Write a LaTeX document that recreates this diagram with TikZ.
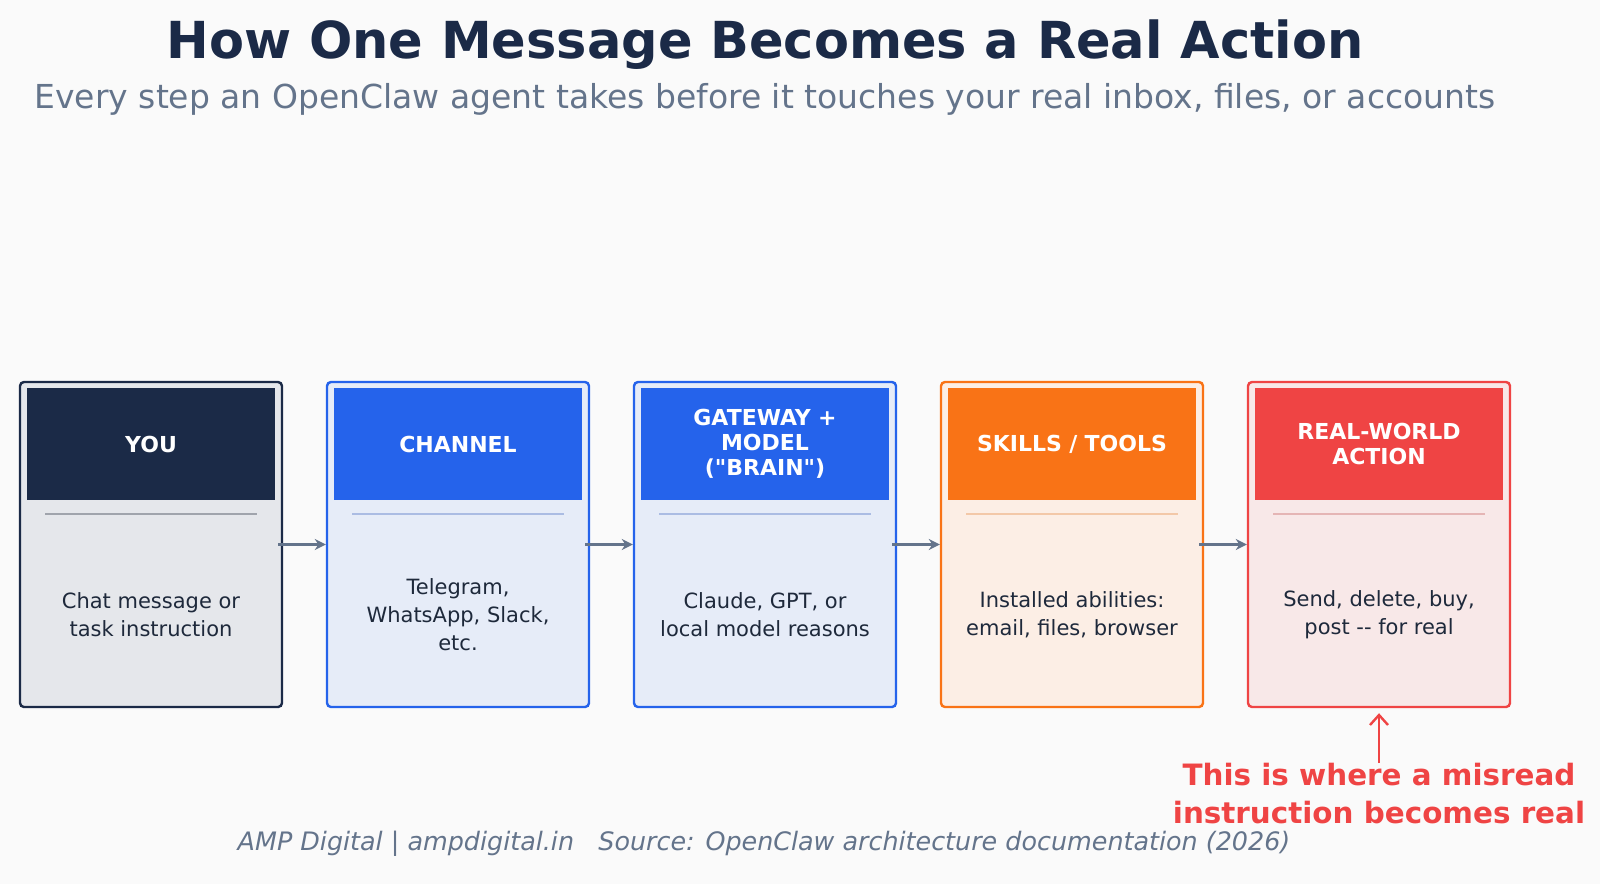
\documentclass[tikz,border=0pt]{standalone}
\usepackage{fontspec}
\setmainfont{DejaVu Sans}[Ligatures=TeXOff]
\usepackage{tikz}
\usetikzlibrary{arrows.meta}

\definecolor{paper}{HTML}{FAFAFA}
\definecolor{ink}{HTML}{1B2A47}
\definecolor{slate}{HTML}{64748B}
\definecolor{bodyink}{HTML}{1E293B}
\definecolor{youbg}{HTML}{E5E7EB}
\definecolor{youln}{HTML}{A0A4AC}
\definecolor{chan}{HTML}{2563EB}
\definecolor{chanbg}{HTML}{E6ECF8}
\definecolor{chanln}{HTML}{ABBCE3}
\definecolor{tool}{HTML}{F97316}
\definecolor{toolbg}{HTML}{FCEEE5}
\definecolor{toolln}{HTML}{F3C8A8}
\definecolor{act}{HTML}{EF4444}
\definecolor{actbg}{HTML}{F8E8E8}
\definecolor{actln}{HTML}{E5B5B5}

\tikzset{
  box/.style={rectangle, rounded corners=2pt, line width=1.2pt,
    minimum width=131pt, minimum height=162.5pt, inner sep=0pt},
  head/.style={rectangle, minimum width=124pt, minimum height=56pt,
    text width=120pt, align=center, text=white, inner sep=0pt,
    font=\bfseries\fontsize{11}{12.5}\selectfont},
  bodytxt/.style={align=center, text=bodyink, font=\fontsize{10.5}{14}\selectfont},
  flow/.style={draw=slate, line width=1.5pt, shorten <=-2.5pt,
    -{Stealth[length=5.5pt,width=5.5pt]}},
  warnarrow/.style={draw=act, line width=1.2pt, -{Straight Barb[length=5pt,width=9pt]}},
}

\begin{document}
\begin{tikzpicture}[x=0.5pt, y=-0.5pt]
% page size in reference pixels, y running down
\fill[paper] (0,0) rectangle (1600,884);
\useasboundingbox (0,0) rectangle (1600,884);

\node[text=ink, font=\bfseries\fontsize{25.5}{30}\selectfont] (title) at (765,45)
  {How One Message Becomes a Real Action};
\node[text=slate, font=\fontsize{16.5}{19}\selectfont] (subtitle) at (765,99)
  {Every step an OpenClaw agent takes before it touches your real inbox, files, or accounts};

% the five stages
\foreach \i/\nm/\col/\bg/\ln/\head/\body in {
  0/you/ink/youbg/youln/{YOU}/{Chat message or\\task instruction},
  1/channel/chan/chanbg/chanln/{CHANNEL}/{Telegram,\\WhatsApp, Slack,\\etc.},
  2/brain/chan/chanbg/chanln/{GATEWAY +\\MODEL\\("BRAIN")}/{Claude, GPT, or\\local model reasons},
  3/skills/tool/toolbg/toolln/{SKILLS / TOOLS}/{Installed abilities:\\email, files, browser},
  4/action/act/actbg/actln/{REAL-WORLD\\ACTION}/{Send, delete, buy,\\post -- for real}}{
  \pgfmathsetmacro\x{151+307*\i}
  \node[box, draw=\col, fill=\bg] (\nm) at (\x,544.5) {};
  \node[head, fill=\col] (\nm-head) at (\x,444) {\head};
  \draw[draw=\ln, line width=0.6pt] (\x-106,514) -- (\x+106,514);
  \node[bodytxt] (\nm-text) at (\x,615) {\body};
}

\draw[flow] (you) -- (channel);
\draw[flow] (channel) -- (brain);
\draw[flow] (brain) -- (skills);
\draw[flow] (skills) -- (action);

% warning under the last stage
\node[text=act, align=center, inner sep=0pt,
  font=\bfseries\fontsize{14.7}{19}\selectfont] (warn) at (1379,794)
  {This is where a misread\\instruction becomes real};
\draw[warnarrow] (warn.north) -- ([yshift=-2.5pt]action.south);

\node[text=slate, font=\itshape\fontsize{12.7}{15}\selectfont] (footer) at (764,844)
  {AMP Digital | ampdigital.in \ \ Source: OpenClaw architecture documentation (2026)};
\end{tikzpicture}
\end{document}
